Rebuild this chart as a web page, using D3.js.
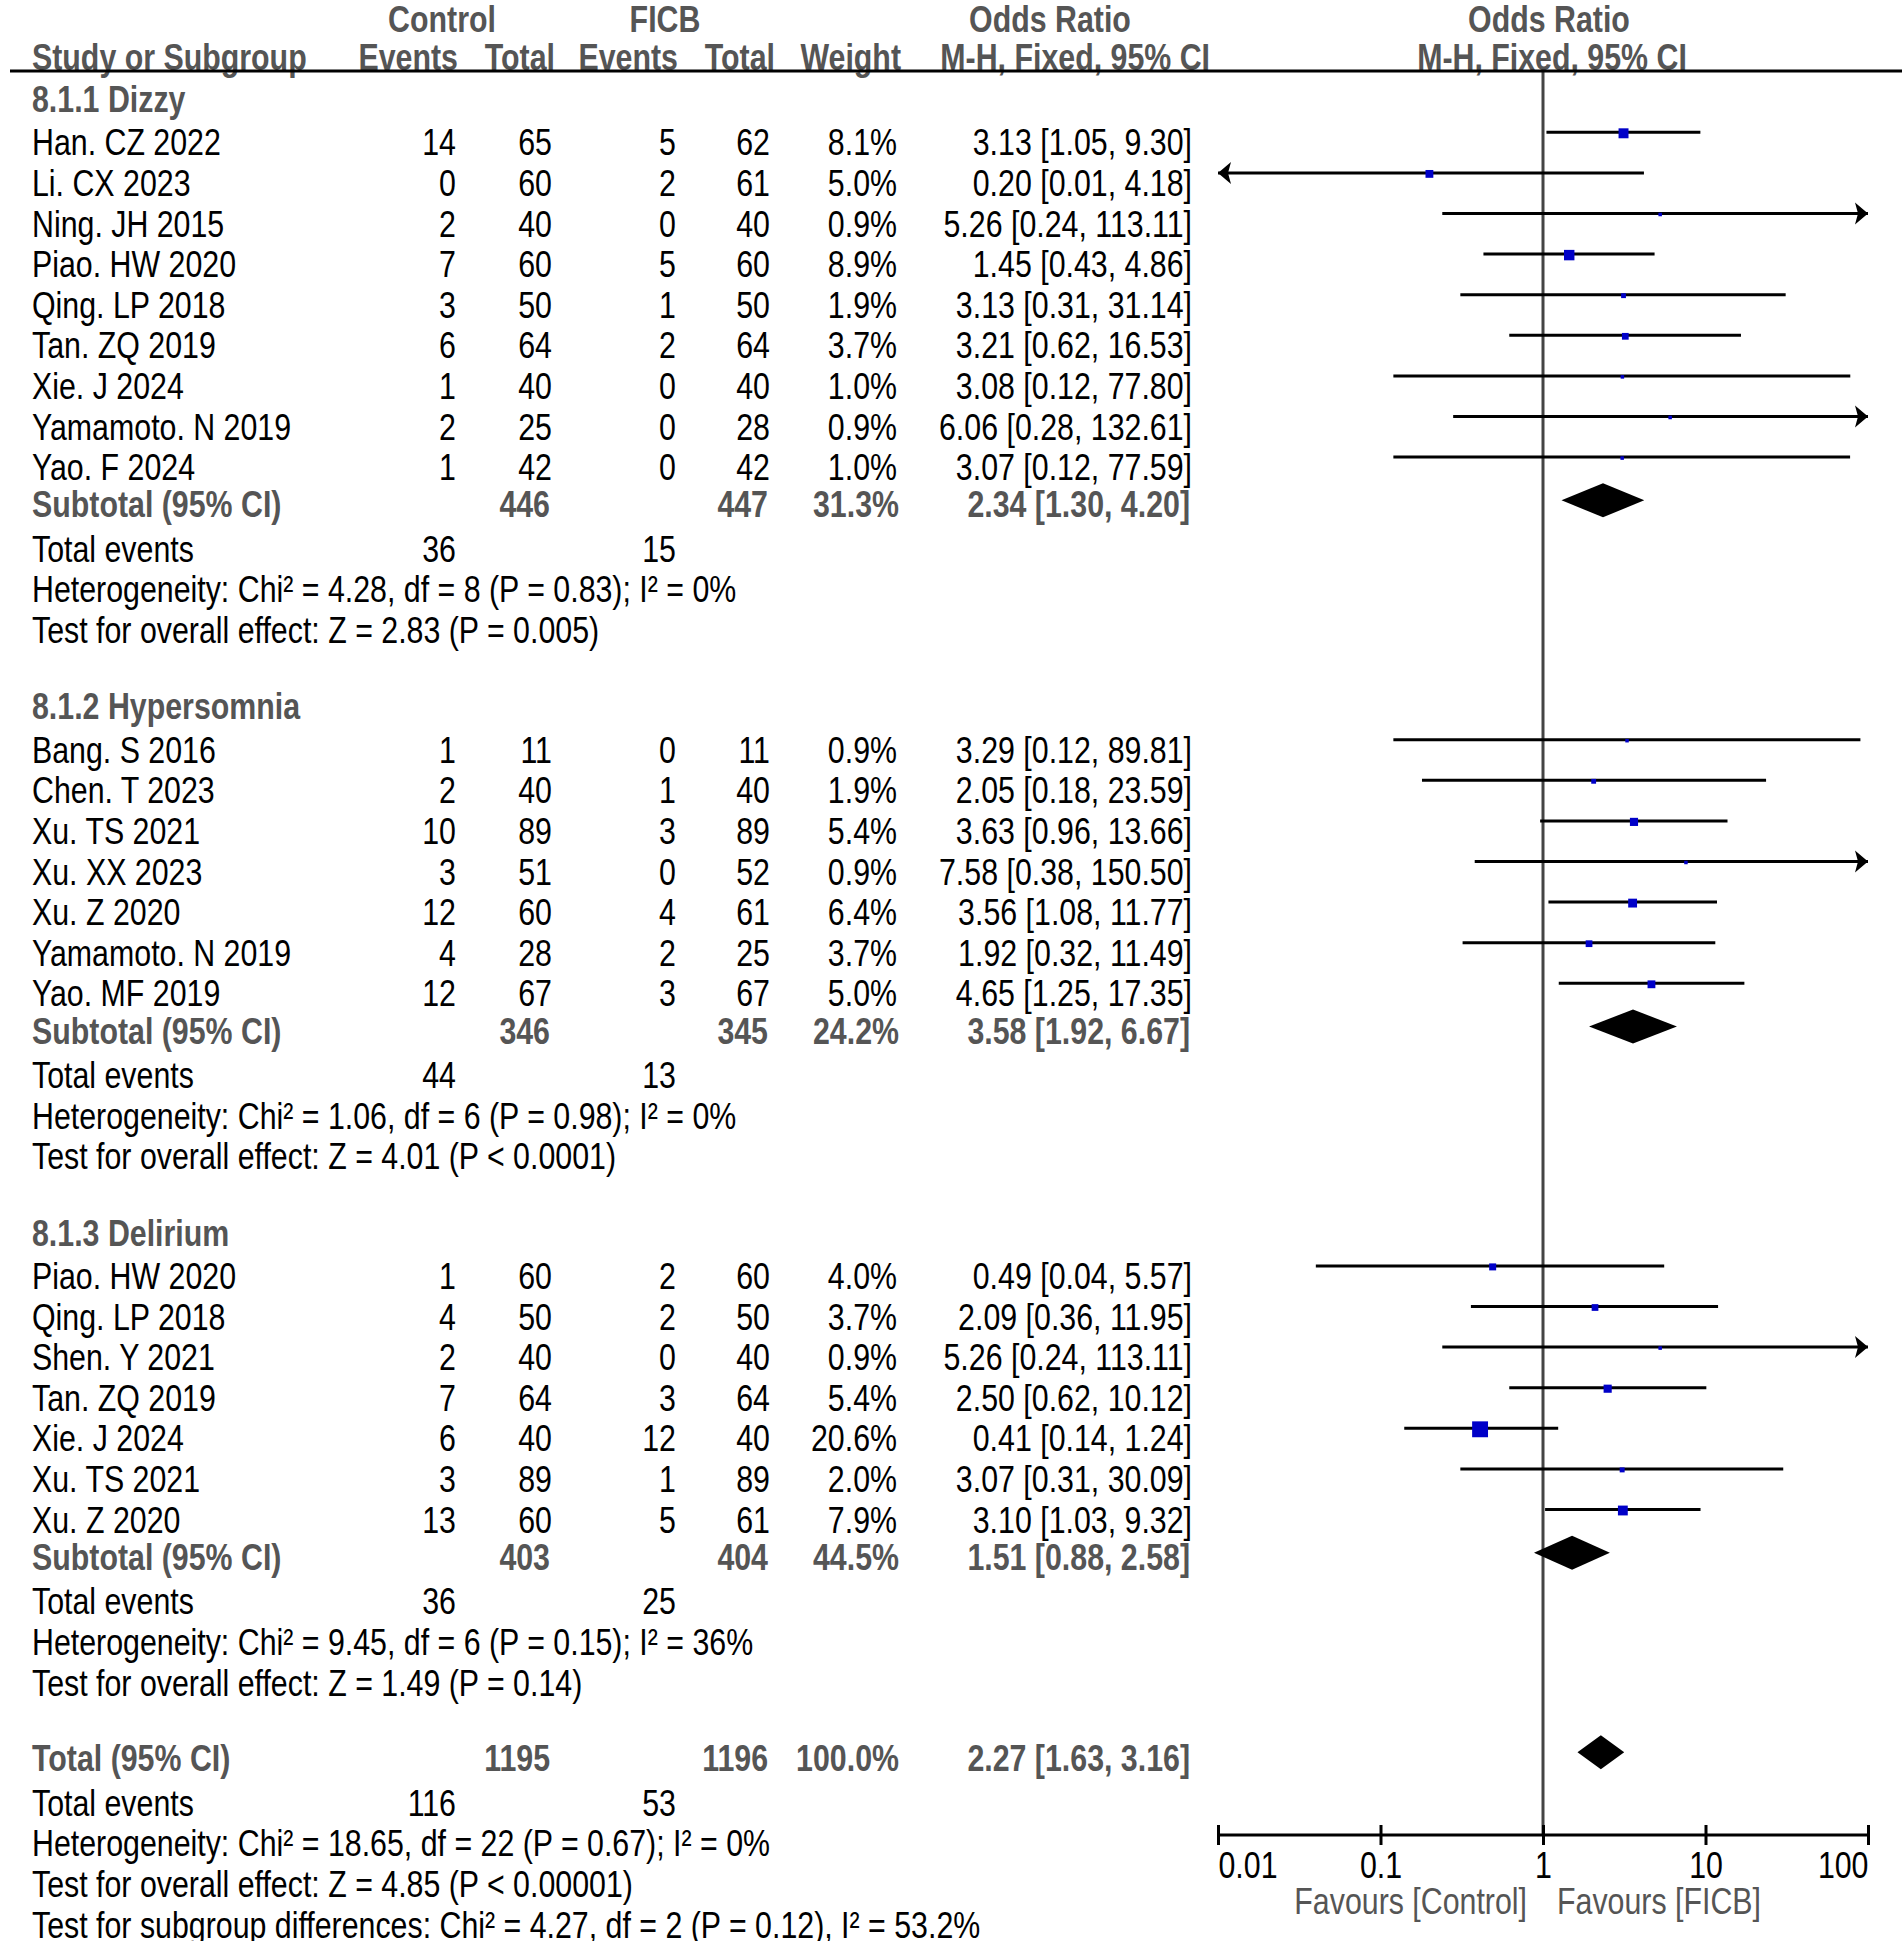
<!DOCTYPE html>
<html><head><meta charset="utf-8">
<script src="https://cdn.jsdelivr.net/npm/d3@7"></script>
<style>body{margin:0;background:#fff;} svg{display:block;}</style>
</head><body>
<script>
// ---------------- DATA ----------------
const groupNames = ["8.1.1 Dizzy", "8.1.2 Hypersomnia", "8.1.3 Delirium"];
const studyNames = [
  "Han. CZ 2022","Li. CX 2023","Ning. JH 2015","Piao. HW 2020","Qing. LP 2018","Tan. ZQ 2019","Xie. J 2024","Yamamoto. N 2019","Yao. F 2024",
  "Bang. S 2016","Chen. T 2023","Xu. TS 2021","Xu. XX 2023","Xu. Z 2020","Yamamoto. N 2019","Yao. MF 2019",
  "Piao. HW 2020","Qing. LP 2018","Shen. Y 2021","Tan. ZQ 2019","Xie. J 2024","Xu. TS 2021","Xu. Z 2020"];
const studyGroup = [0,0,0,0,0,0,0,0,0, 1,1,1,1,1,1,1, 2,2,2,2,2,2,2];
const ctrlEvents = [14,0,2,7,3,6,1,2,1, 1,2,10,3,12,4,12, 1,4,2,7,6,3,13];
const ctrlTotal  = [65,60,40,60,50,64,40,25,42, 11,40,89,51,60,28,67, 60,50,40,64,40,89,60];
const ficbEvents = [5,2,0,5,1,2,0,0,0, 0,1,3,0,4,2,3, 2,2,0,3,12,1,5];
const ficbTotal  = [62,61,40,60,50,64,40,28,42, 11,40,89,52,61,25,67, 60,50,40,64,40,89,61];
const weights    = [8.1,5.0,0.9,8.9,1.9,3.7,1.0,0.9,1.0, 0.9,1.9,5.4,0.9,6.4,3.7,5.0, 4.0,3.7,0.9,5.4,20.6,2.0,7.9];
const orEst = [3.13,0.20,5.26,1.45,3.13,3.21,3.08,6.06,3.07, 3.29,2.05,3.63,7.58,3.56,1.92,4.65, 0.49,2.09,5.26,2.50,0.41,3.07,3.10];
const orLo  = [1.05,0.01,0.24,0.43,0.31,0.62,0.12,0.28,0.12, 0.12,0.18,0.96,0.38,1.08,0.32,1.25, 0.04,0.36,0.24,0.62,0.14,0.31,1.03];
const orHi  = [9.30,4.18,113.11,4.86,31.14,16.53,77.80,132.61,77.59, 89.81,23.59,13.66,150.50,11.77,11.49,17.35, 5.57,11.95,113.11,10.12,1.24,30.09,9.32];

const subCtrlTotal = [446,346,403];
const subFicbTotal = [447,345,404];
const subWeight = ["31.3%","24.2%","44.5%"];
const subEst = [2.34,3.58,1.51];
const subLo  = [1.30,1.92,0.88];
const subHi  = [4.20,6.67,2.58];
const subCtrlEvents = [36,44,36];
const subFicbEvents = [15,13,25];
const subHet = [
  "Heterogeneity: Chi\u00B2 = 4.28, df = 8 (P = 0.83); I\u00B2 = 0%",
  "Heterogeneity: Chi\u00B2 = 1.06, df = 6 (P = 0.98); I\u00B2 = 0%",
  "Heterogeneity: Chi\u00B2 = 9.45, df = 6 (P = 0.15); I\u00B2 = 36%"];
const subTest = [
  "Test for overall effect: Z = 2.83 (P = 0.005)",
  "Test for overall effect: Z = 4.01 (P < 0.0001)",
  "Test for overall effect: Z = 1.49 (P = 0.14)"];

const totalCtrlTotal = 1195, totalFicbTotal = 1196, totalWeight = "100.0%";
const totalEst = 2.27, totalLo = 1.63, totalHi = 3.16;
const totalCtrlEvents = 116, totalFicbEvents = 53;
const totalLines = [
  "Heterogeneity: Chi\u00B2 = 18.65, df = 22 (P = 0.67); I\u00B2 = 0%",
  "Test for overall effect: Z = 4.85 (P < 0.00001)",
  "Test for subgroup differences: Chi\u00B2 = 4.27, df = 2 (P = 0.12), I\u00B2 = 53.2%"];

const axisTicks = [0.01, 0.1, 1, 10, 100];
const axisTickLabels = ["0.01", "0.1", "1", "10", "100"];
const favourLeft = "Favours [Control]", favourRight = "Favours [FICB]";

// ---------------- LAYOUT ----------------
const W = 1902, H = 1941;
const FS = 37, SX = 0.82;
const GRAY = "#555555", BLUE = "#0000c8";
const svg = d3.select("body").append("svg").attr("width", W).attr("height", H)
  .style("font-family", "'Liberation Sans', Arial, sans-serif");

const x = d3.scaleLog().domain([0.01, 100]).range([1218, 1868]);
const fmt2 = d3.format(".2f");
const fmt1 = d3.format(".1f");
const ciText = (e, l, h) => `${fmt2(e)} [${fmt2(l)}, ${fmt2(h)}]`;

function txt(xp, yc, s, o = {}) {
  svg.append("text")
    .attr("transform", `translate(${xp},${yc + 13}) scale(${SX},1)`)
    .attr("text-anchor", o.anchor || "start")
    .attr("font-size", o.size || FS)
    .attr("font-weight", o.bold ? "bold" : "normal")
    .attr("fill", o.color || "#000")
    .text(s);
}

const col = { name: 32, ce: 456, ct: 552, fe: 676, ft: 770, w: 897, or: 1192 };

// header
const hdr = { bold: true, color: GRAY, size: 37 };
const h1 = 19, h2 = 57;
txt(442, h1, "Control", { ...hdr, anchor: "middle" });
txt(665, h1, "FICB", { ...hdr, anchor: "middle" });
txt(1050, h1, "Odds Ratio", { ...hdr, anchor: "middle" });
txt(1549, h1, "Odds Ratio", { ...hdr, anchor: "middle" });
txt(col.name, h2, "Study or Subgroup", hdr);
txt(col.ce + 2, h2, "Events", { ...hdr, anchor: "end" });
txt(col.ct + 3, h2, "Total", { ...hdr, anchor: "end" });
txt(col.fe + 2, h2, "Events", { ...hdr, anchor: "end" });
txt(col.ft + 5, h2, "Total", { ...hdr, anchor: "end" });
txt(col.w + 4, h2, "Weight", { ...hdr, anchor: "end" });
txt(1210, h2, "M-H, Fixed, 95% CI", { ...hdr, anchor: "end" });
txt(1552, h2, "M-H, Fixed, 95% CI", { ...hdr, anchor: "middle" });

// compute row positions
const SP = 40.6;
let y = 99;
const studyY = new Array(studyNames.length);
const groupY = [], subY = [], teY = [], hetY = [], testY = [];
for (let g = 0; g < groupNames.length; g++) {
  groupY.push(y);
  y += 43.3;
  let first = true;
  studyNames.forEach((n, i) => {
    if (studyGroup[i] !== g) return;
    if (!first) y += SP;
    studyY[i] = y; first = false;
  });
  y += 37.2; subY.push(y);
  y += 44.3; teY.push(y);
  y += 40.8; hetY.push(y);
  y += 40.8; testY.push(y);
  if (g < groupNames.length - 1) y += 76.2;
}
const totY = y + 75.7;
const totTeY = totY + 44.3;
const totLineY = [totTeY + 40.8, totTeY + 81.6, totTeY + 122.4];

// vertical line at OR = 1 and header line
const axisY = 1835;
svg.append("line").attr("x1", x(1)).attr("x2", x(1)).attr("y1", 70).attr("y2", axisY)
  .attr("stroke", "#444").attr("stroke-width", 3);
svg.append("line").attr("x1", 10).attr("x2", W).attr("y1", 71).attr("y2", 71)
  .attr("stroke", "#000").attr("stroke-width", 3);

// groups
const sub = { bold: true, color: GRAY };
groupNames.forEach((g, gi) => {
  txt(col.name, groupY[gi], g, sub);
  txt(col.name, subY[gi], "Subtotal (95% CI)", sub);
  txt(col.ct - 2, subY[gi], subCtrlTotal[gi], { ...sub, anchor: "end" });
  txt(col.ft - 2, subY[gi], subFicbTotal[gi], { ...sub, anchor: "end" });
  txt(col.w + 2, subY[gi], subWeight[gi], { ...sub, anchor: "end" });
  txt(col.or - 2, subY[gi], ciText(subEst[gi], subLo[gi], subHi[gi]), { ...sub, anchor: "end" });
  txt(col.name, teY[gi], "Total events");
  txt(col.ce, teY[gi], subCtrlEvents[gi], { anchor: "end" });
  txt(col.fe, teY[gi], subFicbEvents[gi], { anchor: "end" });
  txt(col.name, hetY[gi], subHet[gi]);
  txt(col.name, testY[gi], subTest[gi]);
});

// studies
const xmin = x.domain()[0], xmax = x.domain()[1];
function arrow(tipX, yc, dir) {
  const p = d3.path();
  p.moveTo(tipX, yc);
  p.lineTo(tipX - dir * 13, yc - 11);
  p.lineTo(tipX - dir * 10, yc);
  p.lineTo(tipX - dir * 13, yc + 11);
  p.closePath();
  svg.append("path").attr("d", p.toString()).attr("fill", "#000");
}
studyNames.forEach((n, i) => {
  const yc = studyY[i];
  txt(col.name, yc, n);
  txt(col.ce, yc, ctrlEvents[i], { anchor: "end" });
  txt(col.ct, yc, ctrlTotal[i], { anchor: "end" });
  txt(col.fe, yc, ficbEvents[i], { anchor: "end" });
  txt(col.ft, yc, ficbTotal[i], { anchor: "end" });
  txt(col.w, yc, fmt1(weights[i]) + "%", { anchor: "end" });
  txt(col.or, yc, ciText(orEst[i], orLo[i], orHi[i]), { anchor: "end" });
  const lo = Math.max(orLo[i], xmin), hi = Math.min(orHi[i], xmax);
  const ly = yc - 10;
  svg.append("line").attr("x1", x(lo)).attr("x2", x(hi)).attr("y1", ly).attr("y2", ly)
    .attr("stroke", "#000").attr("stroke-width", 3);
  if (orLo[i] <= xmin) arrow(x(xmin), ly, -1);
  if (orHi[i] >= xmax) arrow(x(xmax), ly, 1);
  const s = Math.max(3.5, 3.5 * Math.sqrt(weights[i]));
  svg.append("rect").attr("x", x(orEst[i]) - s / 2).attr("y", ly - s / 2 + 1)
    .attr("width", s).attr("height", s).attr("fill", BLUE);
});

// diamonds
function diamond(e, l, h, yc) {
  const p = d3.path();
  p.moveTo(x(l), yc); p.lineTo(x(e), yc - 17); p.lineTo(x(h), yc); p.lineTo(x(e), yc + 17); p.closePath();
  svg.append("path").attr("d", p.toString()).attr("fill", "#000");
}
groupNames.forEach((g, gi) => diamond(subEst[gi], subLo[gi], subHi[gi], subY[gi] - 4));
diamond(totalEst, totalLo, totalHi, totY - 6);

// overall total
txt(col.name, totY, "Total (95% CI)", sub);
txt(col.ct - 2, totY, totalCtrlTotal, { ...sub, anchor: "end" });
txt(col.ft - 2, totY, totalFicbTotal, { ...sub, anchor: "end" });
txt(col.w + 2, totY, totalWeight, { ...sub, anchor: "end" });
txt(col.or - 2, totY, ciText(totalEst, totalLo, totalHi), { ...sub, anchor: "end" });
txt(col.name, totTeY, "Total events");
txt(col.ce, totTeY, totalCtrlEvents, { anchor: "end" });
txt(col.fe, totTeY, totalFicbEvents, { anchor: "end" });
totalLines.forEach((t, i) => txt(col.name, totLineY[i], t));

// axis
const ax = svg.append("g").attr("transform", `translate(0,${axisY})`)
  .call(d3.axisBottom(x).tickValues(axisTicks).tickFormat((d, i) => axisTickLabels[i]).tickSize(10).tickPadding(12));
ax.select(".domain").attr("stroke", "#000").attr("stroke-width", 3).attr("d", `M${x(xmin)},0H${x(xmax)}`);
ax.selectAll(".tick line").attr("stroke", "#000").attr("stroke-width", 3).attr("y1", -10).attr("y2", 10);
ax.selectAll(".tick text")
  .attr("font-size", FS).attr("font-family", "'Liberation Sans', Arial, sans-serif").attr("fill", "#000")
  .attr("dy", null).attr("y", 0)
  .attr("transform", (d) => `translate(0,43) scale(${SX},1)`)
  .attr("text-anchor", (d, i) => i === 0 ? "start" : (i === axisTicks.length - 1 ? "end" : "middle"));
txt(x(1) - 16, 1901, favourLeft, { anchor: "end", color: GRAY });
txt(x(1) + 14, 1901, favourRight, { anchor: "start", color: GRAY });
</script>
</body></html>
